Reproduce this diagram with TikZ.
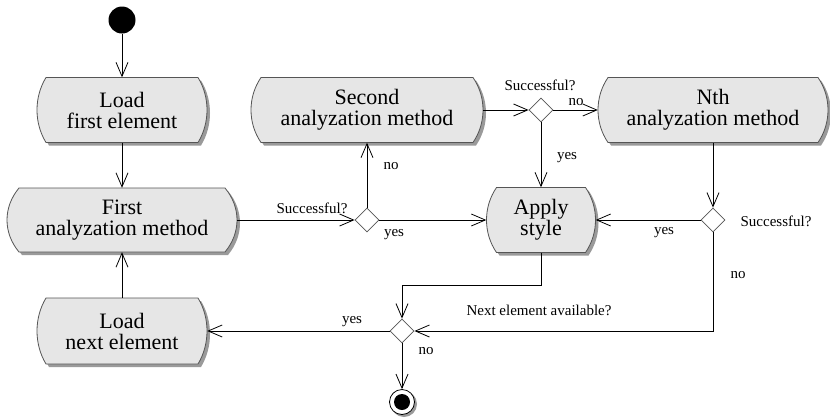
\documentclass[tikz,border=0pt]{standalone}
\usepackage{fontspec}
\setmainfont{Liberation Serif}
\usetikzlibrary{arrows.meta,shapes.geometric}

\definecolor{actfill}{HTML}{E6E6E6}
\definecolor{actline}{HTML}{555555}
\definecolor{shadowgray}{HTML}{9A9A9A}

\tikzset{
  flow/.style={draw=black, line width=0.8pt,
    -{Straight Barb[length=14pt,width=12pt,line width=0.8pt]}},
  decision/.style={diamond, draw=actline, fill=white, line width=0.8pt,
    minimum width=24pt, minimum height=24pt, inner sep=0pt},
  guard/.style={font=\fontsize{15}{16}\selectfont, inner sep=0pt},
  acttext/.style={align=center, font=\fontsize{22}{21}\selectfont, inner sep=0pt},
}

% outline of an activity: flat top and bottom, arc-shaped sides
\newcommand\actoutline[6]{% left, right, top, bottom, middle, bulge
  (#1+#6,#3) -- (#2-#6,#3)
  .. controls (#2+#6/3,#3+0.3*#4-0.3*#3) and (#2+#6/3,#4-0.3*#4+0.3*#3) .. (#2-#6,#4)
  -- (#1+#6,#4)
  .. controls (#1-#6/3,#4-0.3*#4+0.3*#3) and (#1-#6/3,#3+0.3*#4-0.3*#3) .. cycle}

% activity node: name, cx, cy, width, height, bulge, text
\newcommand\activity[7]{%
  \pgfmathsetmacro\actL{#2-#4/2}\pgfmathsetmacro\actR{#2+#4/2}%
  \pgfmathsetmacro\actT{#3-#5/2}\pgfmathsetmacro\actB{#3+#5/2}%
  \fill[shadowgray, shift={(3,3)}] \actoutline{\actL}{\actR}{\actT}{\actB}{#3}{#6};
  \draw[actline, fill=actfill, line width=0.8pt] \actoutline{\actL}{\actR}{\actT}{\actB}{#3}{#6};
  \node[acttext, minimum width=#4pt, minimum height=#5pt] (#1) at (#2,#3) {#7};
}

\begin{document}
\begin{tikzpicture}[x=1pt, y=-1pt]
\useasboundingbox (0,0) rectangle (830,418);

% activities
\activity{loadfirst}{122}{110}{170}{65}{9}{Load\\first element}
\activity{first}{122}{220}{230}{64}{12}{First\\analyzation method}
\activity{loadnext}{122}{331}{170}{66}{9}{Load\\next element}
\activity{second}{367}{110}{232}{65}{10}{Second\\analyzation method}
\activity{nth}{713}{110}{230}{65}{10}{Nth\\analyzation method}
\activity{apply}{541}{220}{109}{65}{10}{Apply\\style}

% initial and final states
\node[circle, fill=black, minimum size=27pt, inner sep=0pt] (start) at (122,20) {};
\fill[shadowgray] (404,404) circle (13pt);
\node[circle, draw=black, fill=white, line width=0.8pt, minimum size=25pt, inner sep=0pt] (stop) at (402,402) {};
\fill[black] (stop.center) circle (8pt);

% decisions
\node[decision] (d1) at (367,220) {};
\node[decision] (d2) at (541,110) {};
\node[decision] (d3) at (713,220) {};
\node[decision] (d4) at (402,331) {};
\coordinate (applyjoin) at (541,285);

% control flow
\draw[flow] (start) -- (loadfirst);
\draw[flow] (loadfirst) -- (first);
\draw[flow] (loadnext) -- (first);
\draw[flow] (first.east) -- (d1.west);
\draw[flow] (d1.north) -- (second.south);
\draw[flow] (d1.east) -- (apply.west);
\draw[flow] (second.east) -- (d2.west);
\draw[flow] (d2.east) -- (nth.west);
\draw[flow] (d2.south) -- (apply.north);
\draw[flow] (nth.south) -- (d3.north);
\draw[flow] (d3.west) -- (apply.east);
\draw[flow] (d3.south) |- (d4.east);
\draw[flow] (apply.south) -- (applyjoin) -| (d4.north);
\draw[flow] (d4.west) -- (loadnext.east);
\draw[flow] (d4.south) -- (stop.north);

% guards
\node[guard] (g1) at (312,208) {Successful?};
\node[guard] (g2) at (391,166) {no};
\node[guard] (g3) at (394,235) {yes};
\node[guard] (g4) at (540,85) {Successful?};
\node[guard] (g5) at (576,102) {no};
\node[guard] (g6) at (567,158) {yes};
\node[guard] (g7) at (776,221) {Successful?};
\node[guard] (g8) at (664,233) {yes};
\node[guard] (g9) at (738,275) {no};
\node[guard] (g10) at (539,310) {Next element available?};
\node[guard] (g11) at (352,322) {yes};
\node[guard] (g12) at (426,351) {no};
\end{tikzpicture}
\end{document}
